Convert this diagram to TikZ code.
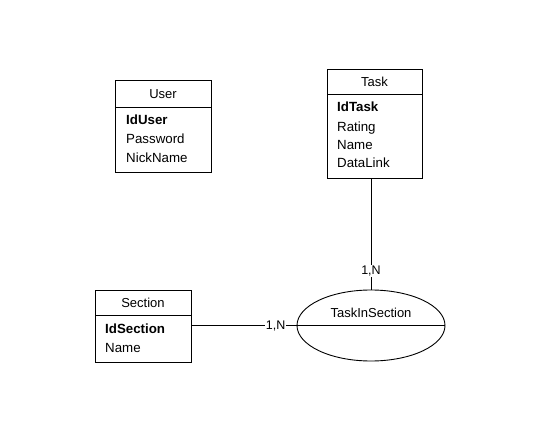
\documentclass[tikz,border=0pt]{standalone}
\usepackage{fontspec}
\setmainfont{Liberation Sans}
\usetikzlibrary{shapes.geometric}
\begin{document}
\begin{tikzpicture}[x=1pt,y=-1pt,
  box/.style={draw, line width=0.9pt, inner sep=0pt, anchor=north west},
  ttl/.style={font=\fontsize{13}{15}\selectfont, inner sep=0pt, anchor=center},
  attr/.style={font=\fontsize{13.3}{15}\selectfont, inner sep=0pt, anchor=base west},
  key/.style={attr, font=\fontsize{13.3}{15}\selectfont\bfseries},
  card/.style={font=\fontsize{12.5}{14}\selectfont, fill=white, inner sep=1pt},
  link/.style={line width=0.9pt}]
\useasboundingbox (0,0) rectangle (540,430);
% User
\node[box, minimum width=96pt, minimum height=27pt] (userh) at (115,80) {};
\node[box, minimum width=96pt, minimum height=65pt] (userb) at (115,107) {};
\node[ttl] (usert) at (163,94) {User};
\node[key] (u1) at (126,124.7) {IdUser};
\node[attr] (u2) at (126,143.7) {Password};
\node[attr] (u3) at (126,162.7) {NickName};
% Task
\node[box, minimum width=95pt, minimum height=25pt] (taskh) at (327,69) {};
\node[box, minimum width=95pt, minimum height=84pt] (taskb) at (327,94) {};
\node[ttl] (taskt) at (374.5,82) {Task};
\node[key] (t1) at (337,111.7) {IdTask};
\node[attr] (t2) at (337,131.2) {Rating};
\node[attr] (t3) at (337,149.7) {Name};
\node[attr] (t4) at (337,167.7) {DataLink};
% Section
\node[box, minimum width=96pt, minimum height=25pt] (sech) at (95,290) {};
\node[box, minimum width=96pt, minimum height=47pt] (secb) at (95,315) {};
\node[ttl] (sect) at (143,303) {Section};
\node[key] (s1) at (105,333.2) {IdSection};
\node[attr] (s2) at (105,352.7) {Name};
% Relationship
\node[ellipse, draw, line width=0.9pt, minimum width=148pt, minimum height=71pt, inner sep=0pt] (rel) at (371,325.5) {};
\node[ttl] (relt) at (371,313) {TaskInSection};
\draw[link] (rel.west) -- (rel.east);
% connectors
\coordinate (tdown) at (rel.north |- taskb.south);
\coordinate (sright) at (rel.west -| secb.east);
\draw[link] (tdown) -- (rel.north) node[card, pos=0.83] (c1) {1,N};
\draw[link] (sright) -- (rel.west) node[card, pos=0.8] (c2) {1,N};
\end{tikzpicture}
\end{document}
